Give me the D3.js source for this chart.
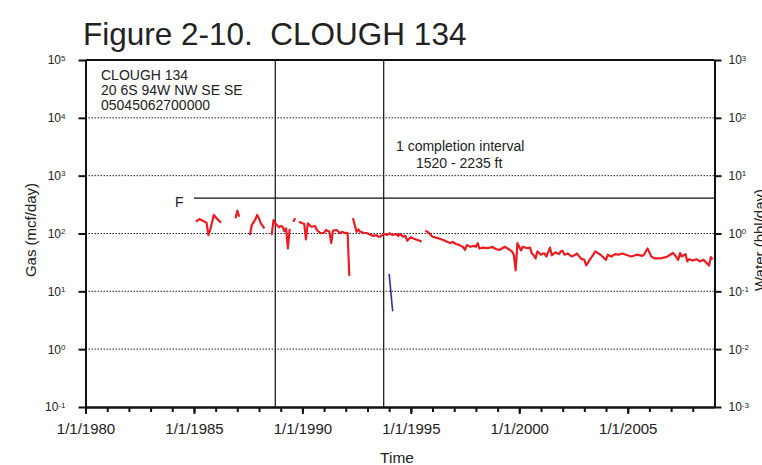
<!DOCTYPE html>
<html>
<head>
<meta charset="utf-8">
<script src="https://cdn.jsdelivr.net/npm/d3@7"></script>
<style>
  body { margin: 0; background: #fff; }
  text { font-family: Arial, "Liberation Sans", sans-serif; fill: #222; }
</style>
</head>
<body>
<div id="container"></div>
<script>
// monthly gas rate, mcf/day (null = no production reported)
var gasDates = [
  "1985-02","1985-04","1985-07","1985-08","1985-09","1985-10","1985-12","1986-02","1986-04","1986-06",
  "1986-12","1987-01","1987-02","1987-05",
  "1987-08","1987-09","1987-11","1987-12","1988-01","1988-02","1988-04","1988-06",
  "1988-08","1988-09","1988-10","1988-12","1989-01","1989-02","1989-03","1989-04","1989-05","1989-06","1989-07",
  "1989-08","1989-09","1989-10",
  "1989-11","1990-01","1990-02","1990-03","1990-04","1990-06","1990-08","1990-09","1990-11","1991-01",
  "1991-02","1991-04","1991-05","1991-06","1991-08","1991-10","1991-11","1992-01","1992-02","1992-03","1992-04",
  "1992-05","1992-06","1992-07","1992-08","1992-09","1992-11","1993-01","1993-02","1993-04","1993-06",
  "1993-07","1993-08","1993-10","1993-12","1994-01","1994-03","1994-05","1994-06","1994-07","1994-09",
  "1994-10","1994-11","1995-01","1995-02","1995-04","1995-06","1995-07","1995-08",
  "1995-09","1995-11","1995-12","1996-01","1996-04","1996-07","1996-09","1996-11","1996-12","1997-02",
  "1997-04","1997-06","1997-07","1997-08","1997-10","1997-12","1998-01","1998-02","1998-03","1998-05",
  "1998-07","1998-09","1998-10","1998-12","1999-02","1999-03","1999-05","1999-07","1999-09","1999-10",
  "1999-11","1999-12","2000-02","2000-03","2000-05","2000-07","2000-08","2000-09","2000-10","2000-11",
  "2001-01","2001-02","2001-03","2001-04","2001-06","2001-07","2001-09","2001-11","2001-12","2002-01",
  "2002-02","2002-04","2002-06","2002-08","2002-09","2002-11","2003-01","2003-02","2003-04","2003-06",
  "2003-07","2003-10","2003-11","2004-01","2004-02","2004-04","2004-06","2004-08","2004-10","2004-12",
  "2005-03","2005-06","2005-09","2005-10","2005-12","2006-02","2006-04","2006-07","2006-10","2006-11",
  "2007-02","2007-03","2007-05","2007-06","2007-07","2007-09","2007-10","2007-11","2008-01","2008-03",
  "2008-05","2008-07","2008-09","2008-10","2008-11","2008-12"
];
var gasValues = [
  160,178,160,152,94,115,209,176,154,null,
  183,248,195,null,
  94,140,176,209,183,150,123,null,
  94,171,150,128,135,131,110,123,55,120,null,
  160,183,null,
  160,150,146,79,150,131,135,115,101,103,
  115,107,68,112,115,101,107,101,103,18.5,null,
  183,140,107,118,107,103,101,97,91,94,
  88,88,98,94,101,94,98,91,97,88,
  91,75,86,83,79,75,72,null,
  112,103,94,88,83,77,72,68,72,66,
  63,58,52,63,59,61,59,68,55,57,
  56,57,59,54,52,54,59,54,49,43,
  23,68,51,59,56,57,45,42,37,49,
  43,45,45,40,57,42,47,44,49,50,
  43,45,40,43,45,37,35,28,35,43,
  49,43,40,35,43,40,44,43,45,43,
  40,43,41,43,55,40,37,37,39,40,
  46,43,35,46,40,44,33,36,34,36,
  33,35,30,28,39,36
];

// water rate, bbl/day (right axis)
var waterDates = ["1994-01", "1994-03"];
var waterValues = [0.2, 0.045];

// vertical marker lines and the F level line
var eventDates = ["1988-10", "1993-10"];
var fStart = "1985-01";
var fLevel = 410;

var yearTicks = d3.range(1980, 2009);
var labelYears = [1980, 1985, 1990, 1995, 2000, 2005];
var gasExps = [-1, 0, 1, 2, 3, 4, 5];
var waterExps = [-3, -2, -1, 0, 1, 2, 3];
var gridExps = [0, 1, 2, 3, 4];

var titleText = "Figure 2-10.  CLOUGH 134";
var wellLines = ["CLOUGH 134", "20 6S 94W NW SE SE", "05045062700000"];
var completionLines = ["1 completion interval", "1520 - 2235 ft"];

var W = 762, H = 465;
var margin = { left: 85.5, right: 714.5, top: 60, bottom: 407 };

var parse = d3.timeParse("%Y-%m");
var yearDate = function(y) { return new Date(y, 0, 1); };

var svg = d3.select("#container").append("svg")
  .attr("width", W).attr("height", H);

var x = d3.scaleTime()
  .domain([yearDate(1980), yearDate(2009)])
  .range([margin.left, margin.right]);
var yGas = d3.scaleLog().domain([1e-1, 1e5]).range([margin.bottom, margin.top]);
var yWater = d3.scaleLog().domain([1e-3, 1e3]).range([margin.bottom, margin.top]);

// title
svg.append("text")
  .attr("x", 83).attr("y", 44.5)
  .style("font-size", "31.5px")
  .style("white-space", "pre")
  .text(titleText);

// dotted grid
svg.append("g").selectAll("line")
  .data(gridExps)
  .enter().append("line")
  .attr("x1", margin.left).attr("x2", margin.right)
  .attr("y1", function(d) { return yGas(Math.pow(10, d)); })
  .attr("y2", function(d) { return yGas(Math.pow(10, d)); })
  .attr("stroke", "#222").attr("stroke-width", 1)
  .attr("stroke-dasharray", "1.5,1.5");

// event lines
svg.append("g").selectAll("line")
  .data(eventDates)
  .enter().append("line")
  .attr("x1", function(d) { return x(parse(d)); })
  .attr("x2", function(d) { return x(parse(d)); })
  .attr("y1", margin.top).attr("y2", margin.bottom)
  .attr("stroke", "#111").attr("stroke-width", 1.2);

// F line
svg.append("line")
  .attr("x1", x(parse(fStart))).attr("x2", margin.right)
  .attr("y1", yGas(fLevel)).attr("y2", yGas(fLevel))
  .attr("stroke", "#111").attr("stroke-width", 1.2);
svg.append("text")
  .attr("x", x(parse(fStart)) - 19).attr("y", yGas(fLevel) + 8.5)
  .style("font-size", "14px")
  .text("F");

// series
var gasData = gasDates.map(function(d, i) { return { date: parse(d), v: gasValues[i] }; });
var waterData = waterDates.map(function(d, i) { return { date: parse(d), v: waterValues[i] }; });

var gasLine = d3.line()
  .defined(function(d) { return d.v != null; })
  .x(function(d) { return x(d.date); })
  .y(function(d) { return yGas(d.v); });
var waterLine = d3.line()
  .x(function(d) { return x(d.date); })
  .y(function(d) { return yWater(d.v); });

svg.append("path").datum(gasData)
  .attr("d", gasLine)
  .attr("fill", "none").attr("stroke", "#ec1c24")
  .attr("stroke-width", 2.2).attr("stroke-linejoin", "round");
svg.append("path").datum(waterData)
  .attr("d", waterLine)
  .attr("fill", "none").attr("stroke", "#2e3192")
  .attr("stroke-width", 1.6);

// axes
function supLabels(sel, exps) {
  sel.selectAll(".tick text").each(function(d, i) {
    var t = d3.select(this).text(null);
    t.append("tspan").text("10");
    t.append("tspan").attr("dy", "-0.45em").style("font-size", "8px").text(String(exps[i]));
  });
}

var gLeft = svg.append("g").attr("transform", "translate(" + margin.left + ",0)")
  .call(d3.axisLeft(yGas)
    .tickValues(gasExps.map(function(e) { return Math.pow(10, e); }))
    .tickSize(7).tickSizeOuter(0).tickPadding(13));
supLabels(gLeft, gasExps);

var gRight = svg.append("g").attr("transform", "translate(" + margin.right + ",0)")
  .call(d3.axisRight(yWater)
    .tickValues(waterExps.map(function(e) { return Math.pow(10, e); }))
    .tickSize(7).tickSizeOuter(0).tickPadding(7));
supLabels(gRight, waterExps);

svg.append("g").attr("transform", "translate(0," + margin.bottom + ")")
  .call(d3.axisBottom(x)
    .tickValues(yearTicks.map(yearDate))
    .tickSize(5).tickSizeOuter(0).tickFormat(""));
var gBottom = svg.append("g").attr("transform", "translate(0," + margin.bottom + ")")
  .call(d3.axisBottom(x)
    .tickValues(labelYears.map(yearDate))
    .tickSize(7).tickSizeOuter(0).tickPadding(9)
    .tickFormat(d3.timeFormat("%-m/%-d/%Y")));

svg.selectAll(".domain").attr("stroke", "#111").attr("stroke-width", 2);
svg.selectAll(".tick line").attr("stroke", "#111").attr("stroke-width", 2);
svg.selectAll(".tick text").attr("fill", "#222").style("font-family", "Arial, 'Liberation Sans', sans-serif");
gLeft.selectAll(".tick text").style("font-size", "12px");
gRight.selectAll(".tick text").style("font-size", "12px");
gBottom.selectAll(".tick text").style("font-size", "15px");

// top frame
svg.append("line")
  .attr("x1", margin.left).attr("x2", margin.right)
  .attr("y1", margin.top).attr("y2", margin.top)
  .attr("stroke", "#111").attr("stroke-width", 2);

// axis titles
svg.append("text")
  .attr("transform", "translate(36,230) rotate(-90)")
  .attr("text-anchor", "middle")
  .style("font-size", "15px")
  .text("Gas (mcf/day)");
svg.append("text")
  .attr("transform", "translate(765,240) rotate(-90)")
  .attr("text-anchor", "middle")
  .style("font-size", "15px")
  .text("Water (bbl/day)");
svg.append("text")
  .attr("x", 397).attr("y", 463)
  .attr("text-anchor", "middle")
  .style("font-size", "15.5px")
  .text("Time");

// annotations
svg.append("g").selectAll("text")
  .data(wellLines)
  .enter().append("text")
  .attr("x", 101)
  .attr("y", function(d, i) { return 80 + i * 15; })
  .style("font-size", "14px")
  .text(function(d) { return d; });

svg.append("g").selectAll("text")
  .data(completionLines)
  .enter().append("text")
  .attr("x", function(d, i) { return i === 0 ? 396 : 416; })
  .attr("y", function(d, i) { return 151 + i * 16.5; })
  .style("font-size", "14px")
  .text(function(d) { return d; });
</script>
</body>
</html>
